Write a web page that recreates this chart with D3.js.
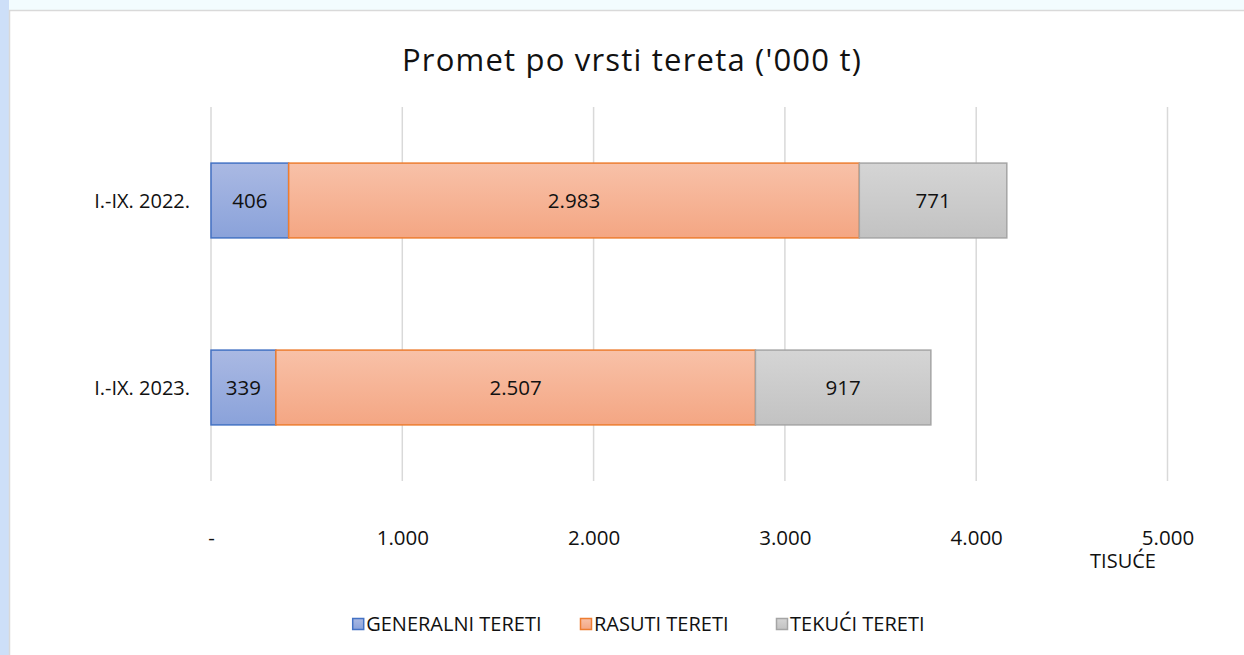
<!DOCTYPE html>
<html>
<head>
<meta charset="utf-8">
<script src="https://cdn.jsdelivr.net/npm/d3@7"></script>
<style>
  body { margin: 0; background: #f3fcfe; }
  svg text { font-family: "Open Sans", "Noto Sans", sans-serif; fill: #111; }
</style>
</head>
<body>
<svg id="chart" width="1244" height="655"></svg>
<script>
// chart values ('000 t)
var categories = ["I.-IX. 2022.", "I.-IX. 2023."];
var seriesNames = ["GENERALNI TERETI", "RASUTI TERETI", "TEKUĆI TERETI"];
var generalni = [406, 339];
var rasuti = [2983, 2507];
var tekuci = [771, 917];
var tickValues = [0, 1000, 2000, 3000, 4000, 5000];
var tickLabels = ["-", "1.000", "2.000", "3.000", "4.000", "5.000"];

var colors = [
  {top: "#aab9e3", bottom: "#8aa2da", line: "#4472c4"},
  {top: "#f8c1a8", bottom: "#f4a683", line: "#ed7d31"},
  {top: "#d5d5d5", bottom: "#c2c2c2", line: "#a5a5a5"}
];

var svg = d3.select("#chart");

//page background: left strip of the underlying slide
svg.append("rect").attr("x", 0).attr("y", 0).attr("width", 9).attr("height", 655).attr("fill", "#cddff8");

//chart box
svg.append("rect")
   .attr("x", 9.5).attr("y", 10.5)
   .attr("width", 1250).attr("height", 660)
   .attr("fill", "#fff").attr("stroke", "#d9d9d9").attr("stroke-width", 1.5);

//gradients for the bars
var defs = svg.append("defs");
colors.forEach(function(c, i){
  var g = defs.append("linearGradient").attr("id", "grad" + i)
              .attr("x1", 0).attr("y1", 0).attr("x2", 0).attr("y2", 1);
  g.append("stop").attr("offset", "0%").attr("stop-color", c.top);
  g.append("stop").attr("offset", "100%").attr("stop-color", c.bottom);
});

var x = d3.scaleLinear().domain([0, 5000]).range([211, 1167.5]);
var y = d3.scaleBand().domain(categories).range([107, 481]).paddingInner(0.6).paddingOuter(0.3);

//title
svg.append("text")
   .attr("x", 632).attr("y", 71)
   .attr("text-anchor", "middle")
   .style("font-size", "31px")
   .style("letter-spacing", "1.2px")
   .text("Promet po vrsti tereta ('000 t)");

//vertical gridlines
svg.append("g").selectAll("line")
   .data(tickValues)
   .enter().append("line")
   .attr("x1", function(d){ return x(d); })
   .attr("x2", function(d){ return x(d); })
   .attr("y1", 107).attr("y2", 481)
   .attr("stroke", "#d9d9d9").attr("stroke-width", 1.5);

//x axis labels
var xAxis = d3.axisBottom(x)
              .tickValues(tickValues)
              .tickSize(0)
              .tickFormat(function(d, i){ return tickLabels[i]; });
var gx = svg.append("g").attr("transform", "translate(0,527)").call(xAxis);
gx.select(".domain").remove();
gx.selectAll("text").style("font-size", "20.5px").attr("fill", "#111");

//unit label under the axis, kept clear of the last tick
svg.append("text")
   .attr("x", 1123).attr("y", 561).attr("dy", "0.35em")
   .attr("text-anchor", "middle")
   .style("font-size", "20px")
   .text("TISUĆE");

//category labels
svg.append("g").selectAll("text")
   .data(categories)
   .enter().append("text")
   .attr("x", 190)
   .attr("y", function(d){ return y(d) + y.bandwidth() / 2; })
   .attr("dy", "0.35em")
   .attr("text-anchor", "end")
   .style("font-size", "20px")
   .text(function(d){ return d; });

//build stacked data
var rows = categories.map(function(c, i){
  return {cat: c, v: [generalni[i], rasuti[i], tekuci[i]]};
});
var segs = [];
rows.forEach(function(r){
  var start = 0;
  r.v.forEach(function(v, k){
    segs.push({cat: r.cat, s: k, x0: start, x1: start + v, v: v});
    start += v;
  });
});

var bars = svg.append("g");
bars.selectAll("rect")
    .data(segs)
    .enter().append("rect")
    .attr("x", function(d){ return x(d.x0); })
    .attr("y", function(d){ return y(d.cat); })
    .attr("width", function(d){ return x(d.x1) - x(d.x0); })
    .attr("height", y.bandwidth())
    .attr("fill", function(d){ return "url(#grad" + d.s + ")"; })
    .attr("stroke", function(d){ return colors[d.s].line; })
    .attr("stroke-width", 1.5);

//value labels
bars.selectAll("text")
    .data(segs)
    .enter().append("text")
    .attr("x", function(d){ return (x(d.x0) + x(d.x1)) / 2; })
    .attr("y", function(d){ return y(d.cat) + y.bandwidth() / 2; })
    .attr("dy", "0.35em")
    .attr("text-anchor", "middle")
    .style("font-size", "20.5px")
    .text(function(d){ return d3.format(",")(d.v).replace(/,/g, "."); });

//legend: orange and gray markers sit where they do in the picture,
//the first item is placed so that its text ends before the second marker
var legend = svg.append("g");
var items = legend.selectAll("g")
   .data(seriesNames)
   .enter().append("g");
items.append("rect")
   .attr("x", 0.5).attr("y", -5.5)
   .attr("width", 11).attr("height", 11)
   .attr("fill", function(d, i){ return "url(#grad" + i + ")"; })
   .attr("stroke", function(d, i){ return colors[i].line; })
   .attr("stroke-width", 1.5);
items.append("text")
   .attr("x", 14).attr("y", 0).attr("dy", "0.35em")
   .style("font-size", "20px")
   .text(function(d){ return d; });
var w0 = items.nodes()[0].getBBox().width;
var legendX = [541 - w0, 580, 776];
items.attr("transform", function(d, i){ return "translate(" + legendX[i] + ",624)"; });
</script>
</body>
</html>
